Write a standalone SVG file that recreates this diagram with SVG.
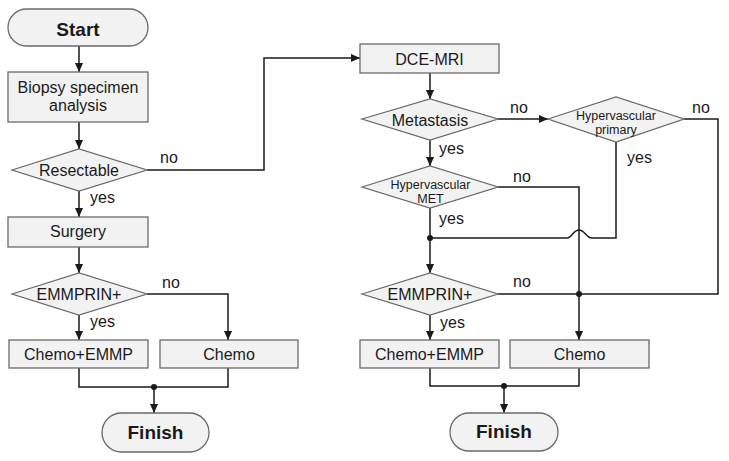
<svg xmlns="http://www.w3.org/2000/svg" width="729" height="461" viewBox="0 0 729 461">
  <defs>
    <marker id="arr" viewBox="0 0 10 10" refX="10" refY="5" markerWidth="9" markerHeight="9" orient="auto" markerUnits="userSpaceOnUse">
      <path d="M0,0.5 L10,5 L0,9.5 z" fill="#1a1a1a"/>
    </marker>
    <style>
      .box{fill:#f2f2f2;stroke:#6a6a6a;stroke-width:1.3}
      .t{font-family:"Liberation Sans",Arial,sans-serif;font-size:16px;fill:#1a1a1a;text-anchor:middle}
      .tb{font-family:"Liberation Sans",Arial,sans-serif;font-size:19px;font-weight:bold;fill:#1a1a1a;text-anchor:middle}
      .ts{font-family:"Liberation Sans",Arial,sans-serif;font-size:12.5px;fill:#1a1a1a;text-anchor:middle}
      .lbl{font-family:"Liberation Sans",Arial,sans-serif;font-size:16px;fill:#1a1a1a}
      .ln{fill:none;stroke:#1a1a1a;stroke-width:1.5}
      .ar{marker-end:url(#arr)}
      .dot{fill:#1a1a1a}
    </style>
  </defs>
  <rect width="729" height="461" fill="#ffffff"/>

  <g id="connectors">
    <!-- left -->
    <path class="ln ar" d="M79,46 V72"/>
    <path class="ln ar" d="M79,122 V149"/>
    <path class="ln ar" d="M79,191 V217"/>
    <path class="ln ar" d="M147,170 H264 V58 H360"/>
    <path class="ln ar" d="M79,247 V273"/>
    <path class="ln ar" d="M147,294 H228 V340"/>
    <path class="ln ar" d="M79,315 V340"/>
    <path class="ln" d="M79,368 V387 H228 V368"/>
    <circle class="dot" cx="154" cy="387" r="3"/>
    <path class="ln ar" d="M154,387 V413"/>
    <!-- right -->
    <path class="ln ar" d="M430,73 V99"/>
    <path class="ln ar" d="M498,119 H548"/>
    <path class="ln ar" d="M430,140 V166"/>
    <path class="ln ar" d="M498,187 H579 V340"/>
    <path class="ln" d="M684,119 H718 V294 H498"/>
    <circle class="dot" cx="579" cy="294" r="3"/>
    <path class="ln" d="M616,142 V238 H592 C586,238 585,230 579,230 C573,230 572,238 567,238 H430"/>
    <circle class="dot" cx="430" cy="238" r="3"/>
    <path class="ln ar" d="M430,208 V273"/>
    <path class="ln ar" d="M430,315 V340"/>
    <path class="ln" d="M430,368 V386 H579 V368"/>
    <circle class="dot" cx="504" cy="386" r="3"/>
    <path class="ln ar" d="M504,386 V413"/>
    <!-- labels -->
    <text class="lbl" x="160" y="163">no</text>
    <text class="lbl" x="90" y="203">yes</text>
    <text class="lbl" x="162" y="288">no</text>
    <text class="lbl" x="90" y="327">yes</text>
    <text class="lbl" x="510" y="113">no</text>
    <text class="lbl" x="692" y="113">no</text>
    <text class="lbl" x="439" y="154">yes</text>
    <text class="lbl" x="627" y="163">yes</text>
    <text class="lbl" x="513" y="182">no</text>
    <text class="lbl" x="439" y="224">yes</text>
    <text class="lbl" x="513" y="287">no</text>
    <text class="lbl" x="440" y="328">yes</text>
  </g>

  <g id="start">
    <rect class="box" x="8" y="9" width="140" height="37" rx="18.5"/>
    <text class="tb" x="78" y="36">Start</text>
  </g>
  <g id="biopsy">
    <rect class="box" x="8" y="72" width="140" height="50"/>
    <text class="t" x="78" y="93">Biopsy specimen</text>
    <text class="t" x="78" y="111">analysis</text>
  </g>
  <g id="resectable">
    <polygon class="box" points="12,170 79,149 147,170 79,191"/>
    <text class="t" x="79" y="176">Resectable</text>
  </g>
  <g id="surgery">
    <rect class="box" x="8" y="217" width="140" height="30"/>
    <text class="t" x="78" y="237">Surgery</text>
  </g>
  <g id="emmprin-left">
    <polygon class="box" points="12,294 79,273 147,294 79,315"/>
    <text class="t" x="79" y="300">EMMPRIN+</text>
  </g>
  <g id="chemo-emmp-left">
    <rect class="box" x="9" y="340" width="139" height="28"/>
    <text class="t" x="78.5" y="360">Chemo+EMMP</text>
  </g>
  <g id="chemo-left">
    <rect class="box" x="160" y="340" width="138" height="28"/>
    <text class="t" x="229" y="360">Chemo</text>
  </g>
  <g id="finish-left">
    <rect class="box" x="102" y="413" width="107" height="39" rx="19.5"/>
    <text class="tb" x="155.5" y="439">Finish</text>
  </g>

  <g id="dce-mri">
    <rect class="box" x="360" y="44" width="139" height="29"/>
    <text class="t" x="429.5" y="65">DCE-MRI</text>
  </g>
  <g id="metastasis">
    <polygon class="box" points="362,119 430,99 498,119 430,140"/>
    <text class="t" x="430" y="126">Metastasis</text>
  </g>
  <g id="hyper-primary">
    <polygon class="box" points="548,119 616,97 684,119 616,142"/>
    <text class="ts" x="616" y="120">Hypervascular</text>
    <text class="ts" x="616" y="134">primary</text>
  </g>
  <g id="hyper-met">
    <polygon class="box" points="362,187 430,166 498,187 430,208"/>
    <text class="ts" x="430.5" y="189">Hypervascular</text>
    <text class="ts" x="430.5" y="203">MET</text>
  </g>
  <g id="emmprin-right">
    <polygon class="box" points="362,294 430,273 498,294 430,315"/>
    <text class="t" x="430" y="300">EMMPRIN+</text>
  </g>
  <g id="chemo-emmp-right">
    <rect class="box" x="360" y="340" width="139" height="28"/>
    <text class="t" x="429.5" y="360">Chemo+EMMP</text>
  </g>
  <g id="chemo-right">
    <rect class="box" x="510" y="340" width="139" height="28"/>
    <text class="t" x="579.5" y="360">Chemo</text>
  </g>
  <g id="finish-right">
    <rect class="box" x="450" y="413" width="108" height="38" rx="19"/>
    <text class="tb" x="504" y="438">Finish</text>
  </g>
</svg>
